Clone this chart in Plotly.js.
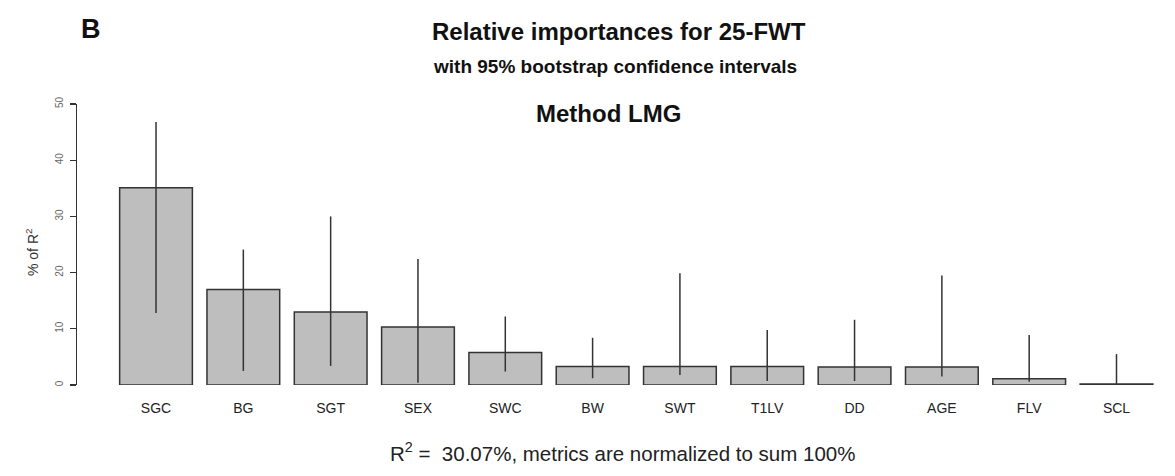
<!DOCTYPE html>
<html>
<head>
<meta charset="utf-8">
<script src="https://cdn.plot.ly/plotly-3.0.1.min.js"></script>
<style>
html,body{margin:0;padding:0;background:#fff;}
#chart{width:1175px;height:476px;}
</style>
</head>
<body>
<div id="chart"></div>
<script>
// Data
const categories = ["SGC","BG","SGT","SEX","SWC","BW","SWT","T1LV","DD","AGE","FLV","SCL"];
const importance = [35.1, 17.0, 13.0, 10.3, 5.8, 3.3, 3.3, 3.3, 3.2, 3.2, 1.1, 0.2];
const ciLower   = [12.8, 2.5, 3.4, 0.4, 2.4, 1.2, 1.8, 0.7, 0.7, 1.5, 0.6, 0.0];
const ciUpper   = [46.8, 24.1, 30.0, 22.4, 12.2, 8.4, 19.9, 9.8, 11.6, 19.5, 8.9, 5.5];
const yTicks = [0, 10, 20, 30, 40, 50];

const xIdx = categories.map((c, i) => i);
const errPlus = importance.map((v, i) => ciUpper[i] - v);
const errMinus = importance.map((v, i) => v - ciLower[i]);

const trace = {
  type: 'bar',
  x: xIdx,
  y: importance,
  width: 0.833,
  marker: {color: '#bebebe', line: {color: '#333333', width: 1.5}},
  error_y: {type: 'data', symmetric: false, array: errPlus, arrayminus: errMinus,
            width: 0, thickness: 1.5, color: '#333333'},
  hoverinfo: 'skip'
};

const font = "'Liberation Sans', Arial, Helvetica, sans-serif";
const W = 1098, H = 281, L = 77, B0 = 385;
const px = x => (x - L) / W;
const py = y => (B0 - y) / H;
const layout = {
  width: 1175, height: 476,
  margin: {l: 77, r: 0, t: 104, b: 91},
  paper_bgcolor: '#ffffff', plot_bgcolor: '#ffffff',
  showlegend: false,
  font: {family: font, color: '#222'},
  xaxis: {
    range: [-0.905, 11.67],
    tickmode: 'array', tickvals: xIdx, ticktext: categories,
    showline: false, showgrid: false, zeroline: false, ticks: '',
    tickfont: {size: 14, color: '#222'},
    ticklabelstandoff: 13
  },
  yaxis: {
    range: [0, 50],
    tickmode: 'array', tickvals: yTicks, ticktext: yTicks.map(String),
    showline: true, linecolor: '#333', linewidth: 1.2,
    ticks: 'outside', ticklen: 6, tickcolor: '#333', tickwidth: 1.2,
    showgrid: false, zeroline: false,
    tickangle: -90,
    ticklabelstandoff: 3,
    tickfont: {size: 10, color: '#666'}
  },
  annotations: [
    {text: '<b>B</b>', xref: 'paper', yref: 'paper', x: px(91), y: py(29), showarrow: false, xanchor: 'center', yanchor: 'middle', font: {size: 27, color: '#111'}},
    {text: '<b>Relative importances for 25-FWT</b>', xref: 'paper', yref: 'paper', x: px(619), y: py(31), showarrow: false, xanchor: 'center', yanchor: 'middle', font: {size: 24, color: '#111'}},
    {text: '<b>with 95% bootstrap confidence intervals</b>', xref: 'paper', yref: 'paper', x: px(615), y: py(66), showarrow: false, xanchor: 'center', yanchor: 'middle', font: {size: 19, color: '#111'}},
    {text: '<b>Method LMG</b>', xref: 'paper', yref: 'paper', x: px(608), y: py(113), showarrow: false, xanchor: 'center', yanchor: 'middle', font: {size: 24, color: '#111'}},
    {text: 'R<sup>2</sup> =  30.07%, metrics are normalized to sum 100%', xref: 'paper', yref: 'paper', x: px(622), y: py(452), showarrow: false, xanchor: 'center', yanchor: 'middle', font: {size: 20.5, color: '#222'}},
    {text: '% of R<sup>2</sup>', xref: 'paper', yref: 'paper', x: px(32), y: py(253), showarrow: false, xanchor: 'center', yanchor: 'middle', textangle: -90, font: {size: 14, color: '#333'}}
  ]
};

Plotly.newPlot('chart', [trace], layout, {displayModeBar: false, staticPlot: true});
</script>
</body>
</html>
